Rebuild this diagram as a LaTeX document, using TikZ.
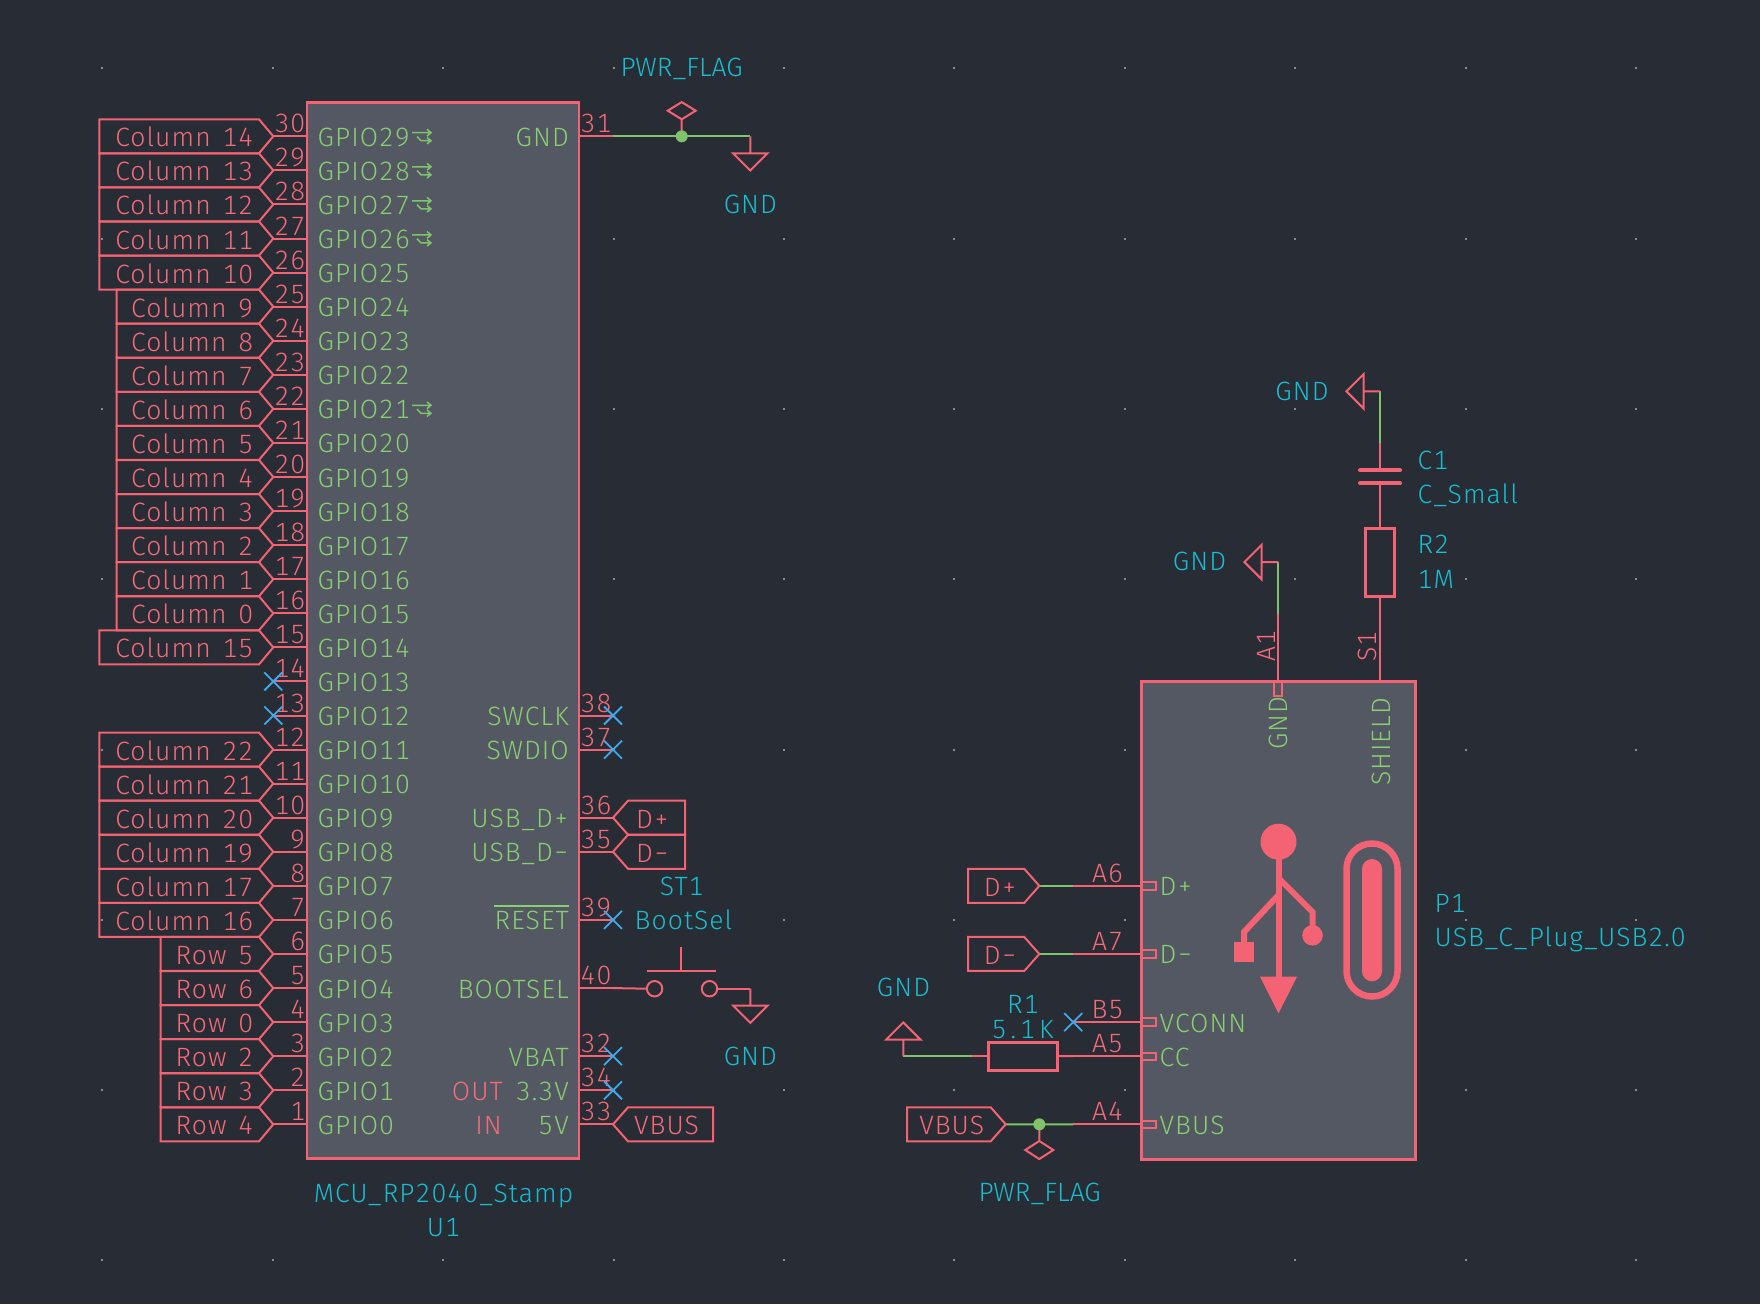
\documentclass[tikz,border=0pt]{standalone}
\usepackage{fontspec}
\setmainfont[LetterSpace=4,WordSpace=1.4,Numbers=Monospaced]{Fira Sans Light}
\usetikzlibrary{calc}
\definecolor{bgc}{HTML}{282C34}
\definecolor{bodyc}{HTML}{545862}
\definecolor{redc}{HTML}{F46373}
\definecolor{grnc}{HTML}{7FC46A}
\definecolor{cyac}{HTML}{14B2C6}
\definecolor{redt}{HTML}{F86A7A}
\definecolor{grnt}{HTML}{88CE72}
\definecolor{cyat}{HTML}{1ABCD0}
\definecolor{bluc}{HTML}{3FA9EE}
\definecolor{dotc}{HTML}{8A8C90}
\tikzset{
 symline/.style={draw=redc,line width=2pt,line join=miter},
 wirered/.style={draw=redc,line width=2pt},
 wiregrn/.style={draw=grnc,line width=2pt},
 bodybox/.style={draw=redc,fill=bodyc,outer sep=0pt},
 thickred/.style={draw=redc,line width=3pt,outer sep=0pt},
 txt/.style={inner sep=0pt,font=\fontsize{26.5}{30}\selectfont},
 rtxt/.style={txt,text=redt},
 gtxt/.style={txt,text=grnt},
 ctxt/.style={txt,text=cyat},
 flagtxt/.style={ctxt,font=\fontsize{26.5}{30}\selectfont\addfontfeature{LetterSpace=0}},
 widetxt/.style={ctxt,font=\fontsize{26.5}{30}\selectfont\addfontfeature{LetterSpace=15}},
 nconn/.style={draw=bluc,line width=1.8pt},
 junc/.style={fill=grnc,draw=none},
 usb/.style={draw=redc,line width=6pt,line cap=butt,line join=miter},
 usbf/.style={fill=redc,draw=none},
}
% no-connect cross at a named coordinate
\newcommand{\NCross}[1]{\draw[nconn] ($(#1)+(-9,-9)$) -- ($(#1)+(9,9)$) ($(#1)+(-9,9)$) -- ($(#1)+(9,-9)$);}
% ground symbol pointing down, stem top at named coordinate
\newcommand{\GndDown}[1]{\draw[symline] (#1) -- ++(0,17) ++(-17.2,0) -- ++(34.4,0) -- ++(-17.2,17.2) -- cycle;}
\begin{document}
\begin{tikzpicture}[x=1pt,y=-1pt]
\fill[bgc] (0,0) rectangle (1760,1304);
\useasboundingbox (0,0) rectangle (1760,1304);
% grid
\foreach \a in {0,...,9}{\foreach \b in {0,...,7}{
  \fill[dotc] ({102.3+170.4*\a-1},{68.3+170.3*\b-1}) rectangle ++(2,2);
}}
% U1 body
\node[bodybox,line width=2.4pt,anchor=north west,inner sep=0pt,minimum width=272pt,minimum height=1056.2pt] (U1) at (307,102.3) {};
% left pins
\foreach \i in {0,...,29}{
  \pgfmathsetmacro{\ry}{136.3+34.07*\i}
  \pgfmathtruncatemacro{\gp}{29-\i}
  \pgfmathtruncatemacro{\pn}{30-\i}
  \coordinate (LP\i) at (273.3,\ry);
  \coordinate (LB\i) at (307.3,\ry);
  \draw[wirered] (LB\i) -- (LP\i);
  \node[rtxt,anchor=base east] (LN\i) at (305.5,\ry-3.5) {\pn};
  \node[gtxt,anchor=base west] (GP\i) at (317.5,\ry+10) {GPIO\gp};
}
% left global labels
\foreach \i/\t/\xl in {0/Column 14/99.3,1/Column 13/99.3,2/Column 12/99.3,3/Column 11/99.3,4/Column 10/99.3,
 5/Column 9/116.7,6/Column 8/116.7,7/Column 7/116.7,8/Column 6/116.7,9/Column 5/116.7,10/Column 4/116.7,
 11/Column 3/116.7,12/Column 2/116.7,13/Column 1/116.7,14/Column 0/116.7,15/Column 15/99.3,
 18/Column 22/99.3,19/Column 21/99.3,20/Column 20/99.3,21/Column 19/99.3,22/Column 17/99.3,23/Column 16/99.3,
 24/Row 5/160.7,25/Row 6/160.7,26/Row 0/160.7,27/Row 2/160.7,28/Row 3/160.7,29/Row 4/160.7}{
  \pgfmathsetmacro{\ry}{136.3+34.07*\i}
  \draw[symline] (LP\i) -- ++(-14.3,-17) -- (\xl,\ry-17) -- (\xl,\ry+17) -- (259,\ry+17) -- cycle;
  \node[rtxt,anchor=base east] (LL\i) at (253.5,\ry+10.5) {\t};
}
\NCross{LP16}
\NCross{LP17}
% GPIO alt-function icons
\foreach \i in {0,1,2,3,8}{
  \pgfmathsetmacro{\ry}{136.3+34.07*\i}
  \draw[draw=grnc,line width=1.5pt] (412,\ry-3.6) -- (431,\ry-3.6) (427,\ry-7) -- (431,\ry-3.6) -- (427,\ry-0.2)
     (417,\ry+0.2) -- (421,\ry+4.4) -- (431,\ry+4.4) (427,\ry+1.2) -- (431,\ry+4.4) -- (427,\ry+7.6);
}
% right pins
\foreach \i/\p/\nm in {0/31/GND,17/38/SWCLK,18/37/SWDIO,20/36/USB\_D+,21/35/USB\_D−,23/39/RESET,25/40/BOOTSEL,27/32/VBAT,28/34/3.3V,29/33/5V}{
  \pgfmathsetmacro{\ry}{136.3+34.07*\i}
  \coordinate (RP\i) at (613,\ry);
  \coordinate (RB\i) at (579,\ry);
  \draw[wirered] (RB\i) -- (RP\i);
  \node[rtxt,anchor=base west] (RN\i) at (580.5,\ry-3.5) {\p};
  \node[gtxt,anchor=base east] (RG\i) at (569,\ry+10) {\nm};
}
\coordinate (ovA) at (494,905.7);
\coordinate (ovB) at (568.5,905.7);
\draw[draw=grnt,line width=1.8pt] (ovA) -- (ovB);
\node[rtxt,anchor=base east] (nOUT) at (503,1100) {OUT};
\node[rtxt,anchor=base east] (nIN) at (502,1134) {IN};
\NCross{RP17}
\NCross{RP18}
\NCross{RP23}
\NCross{RP27}
\NCross{RP28}
% right labels on U1
\foreach \i/\t/\xr/\tx in {20/D+/685/636,21/D−/685/636,29/VBUS/713/634}{
  \pgfmathsetmacro{\ry}{136.3+34.07*\i}
  \draw[symline] (RP\i) -- ++(15,-17) -- (\xr,\ry-17) -- (\xr,\ry+17) -- (628,\ry+17) -- cycle;
  \node[rtxt,anchor=base west] (RL\i) at (\tx,\ry+10.5) {\t};
}
% top-right power flag / GND
\coordinate (gndA) at (750.3,136.3);
\coordinate (jA) at (681.7,136.3);
\draw[wiregrn] (RP0) -- (jA) -- (gndA);
\coordinate (flA) at (681.7,119.3);
\draw[symline] (jA) -- (flA) (flA) -- ++(14,-8.6) -- ++(-14,-8.6) -- ++(-14,8.6) -- cycle;
\fill[junc] (jA) circle (6);
\node[flagtxt,anchor=base] (tFlagA) at (681.7,76.7) {PWR\_FLAG};
\GndDown{gndA}
\node[ctxt,anchor=base] (tGndA) at (750.3,213) {GND};
% switch
\coordinate (swL) at (654.6,988.7);
\coordinate (swR) at (709.5,988.7);
\coordinate (gndB) at (750.4,988.7);
\draw[wirered] (RP25) -- ($(swL)+(-7.7,0)$);
\draw[symline] (swL) circle (7.7) (swR) circle (7.7);
\draw[wirered] ($(swR)+(7.7,0)$) -- (gndB);
\draw[wirered] (681.3,946.7) -- (681.3,971.3) (646.7,971.3) -- (716,971.3);
\GndDown{gndB}
\node[ctxt,anchor=base] (tGndB) at (750.3,1065.5) {GND};
\node[ctxt,anchor=base] (tST) at (681.7,895) {ST1};
\node[ctxt,anchor=base west] (tBS) at (634.5,929) {BootSel};
% U1 texts
\node[ctxt,anchor=base] (tMCU) at (443.5,1202.5) {MCU\_RP2040\_Stamp};
\node[ctxt,anchor=base] (tU1) at (443.5,1236) {U1};
% P1 body
\node[bodybox,line width=3pt,anchor=north west,inner sep=0pt,minimum width=273.3pt,minimum height=477.3pt] (P1) at (1141.7,681.7) {};
% P1 side pins
\foreach \n/\i/\t/\p in {a/22/D+/A6,b/24/D−/A7,c/26/VCONN/B5,d/27/CC/A5,e/29/VBUS/A4}{
  \pgfmathsetmacro{\ry}{136.3+34.07*\i}
  \coordinate (PB\n) at (1141.7,\ry);
  \coordinate (PE\n) at (1073.3,\ry);
  \draw[wirered] (PB\n) -- (PE\n);
  \draw[symline] (1141.7,\ry-3.7) rectangle (1156,\ry+3.7);
  \node[rtxt,anchor=base] (PN\n) at (1107.5,\ry-3.5) {\p};
  \node[gtxt,anchor=base west] (PT\n) at (1159.5,\ry+10) {\t};
}
\NCross{PEc}
% D+/D- labels
\foreach \n/\t in {a/D+,b/D−}{
  \coordinate (PT\n x) at ($(PE\n)+(-34,0)$);
  \draw[wiregrn] (PE\n) -- (PT\n x);
  \draw[symline] (PT\n x) -- ++(-15,-17) -- ++(-56.3,0) -- ++(0,34) -- ++(56.3,0) -- cycle;
  \node[rtxt,anchor=base] (PL\n) at ($(PT\n x)+(-39,10.5)$) {\t};
}
% R1 and GND
\node[thickred,fill=none,inner sep=0pt,minimum width=69.3pt,minimum height=27.7pt] (R1) at (1022.7,1056.2) {};
\coordinate (gndC) at (903.3,1056.2);
\coordinate (r1g) at (972.3,1056.2);
\draw[wirered] (PEd) -- (R1.east);
\draw[wirered] (R1.west) -- (r1g);
\draw[wiregrn] (r1g) -- (gndC);
\draw[symline] (gndC) -- ++(0,-16.5) ++(-17.3,0) -- ++(34.6,0) -- ++(-17.3,-17.3) -- cycle;
\node[ctxt,anchor=base] (tGndC) at (903.5,996.7) {GND};
\node[ctxt,anchor=base] (tR1) at (1023,1013.7) {R1};
\node[widetxt,anchor=base] (tR1v) at (1022.7,1038.2) {5.1K};
% VBUS label and flag
\coordinate (vbt) at (1005.7,1124.3);
\coordinate (jB) at (1039.3,1124.3);
\draw[wiregrn] (PEe) -- (jB) -- (vbt);
\draw[symline] (vbt) -- ++(-15,-17) -- (907,1107.3) -- (907,1141.3) -- (990.7,1141.3) -- cycle;
\node[rtxt,anchor=base] (tVB) at (951.7,1134.8) {VBUS};
\draw[symline] (jB) -- ++(0,16.7) coordinate (flB) (flB) -- ++(14,9) -- ++(-14,9) -- ++(-14,-9) -- cycle;
\fill[junc] (jB) circle (6);
\node[flagtxt,anchor=base] (tFlagB) at (1039.7,1201.5) {PWR\_FLAG};
% A1 pin and GND
\coordinate (A1b) at (1278.3,681.7);
\coordinate (A1m) at (1278.3,614);
\coordinate (A1t) at (1278.3,562);
\coordinate (A1g) at (1261.7,562);
\draw[wirered] (A1b) -- (A1m);
\draw[wiregrn] (A1m) -- (A1t);
\draw[symline] (A1t) -- (A1g) (A1g) -- ++(0,-17.3) -- ++(-17.3,17.3) -- ++(17.3,17.3) -- cycle;
\draw[symline] (1274.3,681.7) rectangle (1282.3,695.7);
\node[gtxt,anchor=base west,rotate=90] (tPGnd) at (1287,750) {GND};
\node[rtxt,anchor=base west,rotate=90] (tA1) at (1275,662) {A1};
\node[ctxt,anchor=base] (tGndD) at (1199.5,570.5) {GND};
% S1 pin, R2, C1
\coordinate (S1b) at (1380.3,681.7);
\node[thickred,inner sep=0pt,minimum width=29.3pt,minimum height=68.4pt] (R2) at (1380.3,562.5) {};
\coordinate (C1l) at (1380.3,483.3);
\coordinate (C1u) at (1380.3,470.3);
\coordinate (C1m) at (1380.3,443.3);
\coordinate (C1t) at (1380.3,391.3);
\coordinate (C1g) at (1363.7,391.3);
\draw[wirered] (S1b) -- (R2.south);
\draw[wirered] (R2.north) -- (C1l);
\draw[draw=redc,line width=4pt,line cap=round] (1360,483.3) -- (1400,483.3) (1360,470.3) -- (1400,470.3);
\draw[wirered] (C1u) -- (C1m);
\draw[wiregrn] (C1m) -- (C1t);
\draw[symline] (C1t) -- (C1g) (C1g) -- ++(0,-17.3) -- ++(-17.3,17.3) -- ++(17.3,17.3) -- cycle;
\node[gtxt,anchor=base west,rotate=90] (tShield) at (1390.3,786) {SHIELD};
\node[rtxt,anchor=base west,rotate=90] (tS1) at (1376.7,662) {S1};
\node[ctxt,anchor=base] (tGndE) at (1302,400.5) {GND};
\node[ctxt,anchor=base west] (tC1) at (1417.5,469) {C1};
\node[ctxt,anchor=base west] (tC1v) at (1417.5,503) {C\_Small};
\node[ctxt,anchor=base west] (tR2) at (1417.5,553.7) {R2};
\node[ctxt,anchor=base west] (tR2v) at (1417.5,588.7) {1M};
\node[ctxt,anchor=base west] (tP1) at (1434.5,912) {P1};
\node[ctxt,anchor=base west] (tP1v) at (1434.5,946) {USB\_C\_Plug\_USB2.0};
% USB symbol
\fill[usbf] (1278.5,841.7) circle (18);
\draw[usb] (1278.5,850) -- (1278.5,980);
\fill[usbf] (1260,976.7) -- (1297,976.7) -- (1278.5,1013.3) -- cycle;
\draw[usb] (1278.5,895) -- (1244,932) -- (1244,945);
\fill[usbf] (1234,942.3) rectangle (1254,961.7);
\draw[usb] (1278.5,878) -- (1312.5,912) -- (1312.5,930);
\fill[usbf] (1312.5,935.3) circle (10.3);
\draw[draw=redc,line width=6.5pt,rounded corners=25.5pt] (1346.5,843.5) rectangle (1397.5,996.5);
\fill[usbf,rounded corners=10pt] (1362,859) rectangle (1382,981.3);
\end{tikzpicture}
\end{document}
